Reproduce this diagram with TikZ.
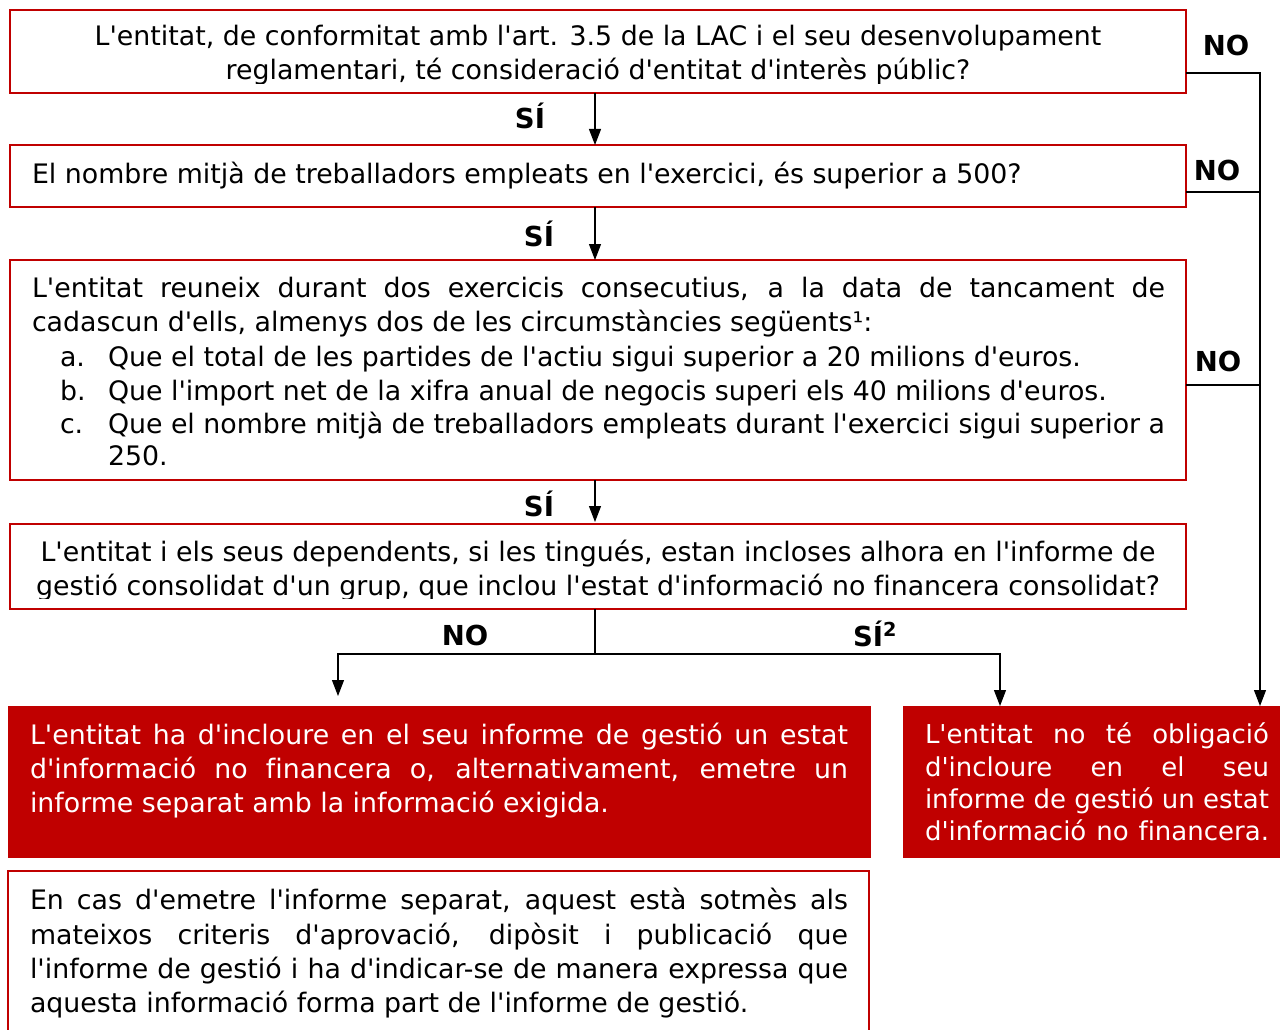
\documentclass[tikz,border=0pt]{standalone}
\usepackage{fontspec}
\setmainfont{DejaVu Sans}[Ligatures={TeXOff,CommonOff}]
\usetikzlibrary{arrows.meta}
\definecolor{boxred}{RGB}{192,0,0}
\newcommand\bodyfont{\fontsize{26.8}{34}\selectfont}
\newcommand\smallbody{\fontsize{26}{32}\selectfont}
\newcommand\lblfont{\fontsize{27.5}{30}\selectfont\bfseries}
\begin{document}
\begin{tikzpicture}[x=1pt,y=-1pt,
  qbox/.style={draw=boxred,line width=2pt,fill=white,inner sep=0pt,outer sep=0pt},
  rbox/.style={draw=boxred,line width=1pt,fill=boxred,inner sep=0pt,outer sep=0pt},
  txt/.style={anchor=base west,inner sep=0pt,outer sep=0pt,font=\bodyfont},
  ctxt/.style={anchor=base,inner sep=0pt,outer sep=0pt,font=\bodyfont},
  wtxt/.style={anchor=base west,inner sep=0pt,outer sep=0pt,font=\bodyfont,text=white},
  lbl/.style={anchor=base,inner sep=0pt,font=\lblfont},
  arr/.style={line width=1.1pt,-{Triangle[length=16pt,width=12pt]}},
  ln/.style={line width=1.1pt}]
\useasboundingbox (0,0) rectangle (1280,1030);
\fill[white] (0,0) rectangle (1280,1030);

% boxes
\node[qbox,minimum width=1176pt,minimum height=83pt] (b1) at (598,51.5) {};
\node[qbox,minimum width=1176pt,minimum height=62pt] (b2) at (598,176) {};
\node[qbox,minimum width=1176pt,minimum height=220pt] (b3) at (598,370) {};
\node[qbox,minimum width=1176pt,minimum height=85pt] (b4) at (598,566.5) {};
\node[rbox,minimum width=862pt,minimum height=151pt] (b5) at (439,781.5) {};
\node[rbox,minimum width=379pt,minimum height=151pt] (b6) at (1092.5,781.5) {};
\node[qbox,minimum width=861pt,minimum height=168pt] (b7) at (438.5,955) {};

% box 1 text (clipped as in the original)
\begin{scope}
\clip (12,12) rectangle (1184,84);
\node[ctxt] (t1a) at (598,46) {L'entitat, de conformitat amb l'art. 3.5 de la LAC i el seu desenvolupament};
\node[ctxt] (t1b) at (598,80) {reglamentari, té consideració d'entitat d'interès públic?};
\end{scope}

% box 2 text
\node[txt] (t2) at (32,183) {El nombre mitjà de treballadors empleats en l'exercici, és superior a 500?};

% box 3 text
\node[txt] (t3a) at (32,297) {\makebox[1133pt][s]{L'entitat reuneix durant dos exercicis consecutius, a la data de tancament de}};
\node[txt] (t3b) at (32,331) {cadascun d'ells, almenys dos de les circumstàncies següents¹:};
\node[txt] (t3c) at (60,366) {a.};
\node[txt] (t3cc) at (108,366) {Que el total de les partides de l'actiu sigui superior a 20 milions d'euros.};
\node[txt] (t3d) at (60,400) {b.};
\node[txt] (t3dd) at (108,400) {Que l'import net de la xifra anual de negocis superi els 40 milions d'euros.};
\node[txt] (t3e) at (60,433) {c.};
\node[txt] (t3ee) at (108,433) {\makebox[1057pt][s]{Que el nombre mitjà de treballadors empleats durant l'exercici sigui superior a}};
\node[txt] (t3f) at (108,465) {250.};

% box 4 text (clipped)
\begin{scope}
\clip (12,526) rectangle (1184,598);
\node[ctxt] (t4a) at (598,561) {L'entitat i els seus dependents, si les tingués, estan incloses alhora en l'informe de};
\node[ctxt] (t4b) at (598,595) {gestió consolidat d'un grup, que inclou l'estat d'informació no financera consolidat?};
\end{scope}

% box 5 text
\node[wtxt] (t5a) at (30,744) {\makebox[818pt][s]{L'entitat ha d'incloure en el seu informe de gestió un estat}};
\node[wtxt] (t5b) at (30,778) {\makebox[818pt][s]{d'informació no financera o, alternativament, emetre un}};
\node[wtxt] (t5c) at (30,812) {informe separat amb la informació exigida.};

% box 6 text
\node[wtxt,font=\smallbody] (t6a) at (925,743) {\makebox[344pt][s]{L'entitat no té obligació}};
\node[wtxt,font=\smallbody] (t6b) at (925,776) {\makebox[344pt][s]{d'incloure en el seu}};
\node[wtxt,font=\smallbody] (t6c) at (925,808) {\makebox[344pt][s]{informe de gestió un estat}};
\node[wtxt,font=\smallbody] (t6d) at (925,840) {\makebox[344pt][s]{d'informació no financera.}};

% box 7 text
\node[txt] (t7a) at (30,909) {\makebox[818pt][s]{En cas d'emetre l'informe separat, aquest està sotmès als}};
\node[txt] (t7b) at (30,944) {\makebox[818pt][s]{mateixos criteris d'aprovació, dipòsit i publicació que}};
\node[txt] (t7c) at (30,978) {\makebox[818pt][s]{l'informe de gestió i ha d'indicar-se de manera expressa que}};
\node[txt] (t7d) at (30,1012) {aquesta informació forma part de l'informe de gestió.};

% connectors
\coordinate (split) at (595,654);
\coordinate (noend) at (338,696);
\coordinate (siend) at (1000,0);
\coordinate (rail) at (1260,0);
\draw[arr] ([xshift=-3pt]b1.south) -- ([xshift=-3pt]b2.north);
\draw[arr] ([xshift=-3pt]b2.south) -- ([xshift=-3pt]b3.north);
\draw[arr] ([xshift=-3pt]b3.south) -- ([xshift=-3pt,yshift=2pt]b4.north);
\draw[ln] (b4.south -| split) -- (split);
\draw[arr] (split) -| (noend);
\draw[arr] (split) -| (b6.north -| siend);
\draw[arr] ([yshift=-21.5pt]b1.east) -| (b6.north -| rail);
\draw[ln] ([yshift=-16pt]b2.east) coordinate (r2) -- (r2 -| rail);
\draw[ln] ([yshift=-15pt]b3.east) coordinate (r3) -- (r3 -| rail);

% labels
\node[lbl] (s1) at (530,129) {SÍ};
\node[lbl] (s2) at (539,246) {SÍ};
\node[lbl] (s3) at (539,516) {SÍ};
\node[lbl] (n1) at (1226,56) {NO};
\node[lbl] (n2) at (1217,181) {NO};
\node[lbl] (n3) at (1218,371) {NO};
\node[lbl] (n4) at (465,645) {NO};
\node[lbl] (s4) at (875,646) {SÍ\textsuperscript{2}};
\end{tikzpicture}
\end{document}
